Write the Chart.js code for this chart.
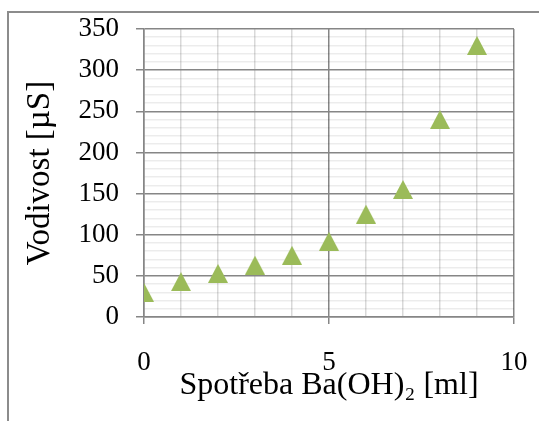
<!DOCTYPE html>
<html>
<head>
<meta charset="utf-8">
<script src="https://cdn.jsdelivr.net/npm/chart.js@4.4.1/dist/chart.umd.min.js"></script>
<style>
  html, body { margin: 0; padding: 0; background: #ffffff; }
  #wrap { position: relative; width: 539px; height: 421px; overflow: hidden; background: #ffffff; }
  #frame { position: absolute; left: 7px; top: 11px; width: 800px; height: 800px;
           border: 2px solid #8c8c8c; box-sizing: border-box; }
  #chart { position: absolute; left: 0; top: 0; }
</style>
</head>
<body>
<div id="wrap">
  <div id="frame"></div>
  <canvas id="chart" width="539" height="421"></canvas>
</div>
<script>
// Titration: added Ba(OH)2 volume [ml] vs. measured conductivity [µS]
const volumes = [0, 1, 2, 3, 4, 5, 6, 7, 8, 9];
const conductivity = [30, 43, 53, 63, 75, 92, 125, 155, 240, 330];

// Labelled ticks on each axis (other ticks only carry minor gridlines)
const xTickLabels = [0, 5, 10];
const yTickLabels = [0, 50, 100, 150, 200, 250, 300, 350];

const xTitle = 'Spotřeba Ba(OH)₂ [ml]';
const yTitle = 'Vodivost [µS]';

// Minor gridlines are translucent so major lines stay solid where they cross
const MAJOR = '#868686';
const MINOR_V = 'rgba(0,0,0,0.15)';
const MINOR_H = 'rgba(0,0,0,0.075)';
const GREEN = '#9bbb59';
const FONT = '"Liberation Serif", "Times New Roman", serif';

// Filled triangle used as the point marker
function triangleMarker(w, h, color) {
  const c = document.createElement('canvas');
  c.width = w; c.height = h;
  const g = c.getContext('2d');
  g.fillStyle = color;
  g.beginPath();
  g.moveTo(w / 2, 0);
  g.lineTo(w, h);
  g.lineTo(0, h);
  g.closePath();
  g.fill();
  return c;
}
const marker = triangleMarker(20, 19, GREEN);

const points = volumes.map((v, i) => ({ x: v, y: conductivity[i] }));

const tickVal = ctx => (ctx.tick ? ctx.tick.value : NaN);

new Chart(document.getElementById('chart'), {
  type: 'scatter',
  data: {
    datasets: [{
      data: points,
      pointStyle: marker,
      pointRadius: 10,
      pointHoverRadius: 10,
      showLine: false,
      backgroundColor: GREEN,
      borderColor: GREEN
    }]
  },
  options: {
    responsive: false,
    animation: false,
    events: [],
    layout: { autoPadding: false, padding: { top: 29, right: 25, left: 0, bottom: 0 } },
    plugins: { legend: { display: false }, tooltip: { enabled: false } },
    scales: {
      x: {
        type: 'linear',
        min: 0, max: 10,
        // fixed band below the plot; label overhang is covered by the layout padding
        afterFit: s => { s.height = 104; s.paddingLeft = 0; s.paddingRight = 0; },
        ticks: {
          stepSize: 1,
          autoSkip: false,
          maxRotation: 0,
          padding: 23,
          color: '#000000',
          font: { family: FONT, size: 27 },
          callback: v => (xTickLabels.includes(v) ? String(v) : '')
        },
        grid: {
          drawTicks: true,
          tickLength: 7,
          lineWidth: 1.5,
          color: ctx => (xTickLabels.includes(tickVal(ctx)) ? MAJOR : MINOR_V),
          tickColor: ctx => (xTickLabels.includes(tickVal(ctx)) ? MAJOR : 'rgba(0,0,0,0)'),
          tickWidth: 1.5
        },
        border: { display: true, color: MAJOR, width: 1.5 },
        title: {
          display: true,
          text: xTitle,
          color: '#000000',
          font: { family: FONT, size: 32 },
          padding: { top: 0, bottom: 16 }
        }
      },
      y: {
        type: 'linear',
        min: 0, max: 350,
        afterFit: s => { s.width = 144; s.paddingTop = 0; s.paddingBottom = 0; },
        ticks: {
          stepSize: 10,
          autoSkip: false,
          padding: 17,
          color: '#000000',
          font: { family: FONT, size: 27 },
          callback: v => (yTickLabels.includes(v) ? String(v) : '')
        },
        grid: {
          drawTicks: true,
          tickLength: 8,
          lineWidth: 1.5,
          color: ctx => (yTickLabels.includes(tickVal(ctx)) ? MAJOR : MINOR_H),
          tickColor: ctx => (yTickLabels.includes(tickVal(ctx)) ? MAJOR : 'rgba(0,0,0,0)'),
          tickWidth: 1.5
        },
        border: { display: true, color: MAJOR, width: 1.5 },
        title: {
          display: true,
          text: yTitle,
          color: '#000000',
          font: { family: FONT, size: 33 },
          padding: { top: 21, bottom: 0 }
        }
      }
    }
  }
});
</script>
</body>
</html>
